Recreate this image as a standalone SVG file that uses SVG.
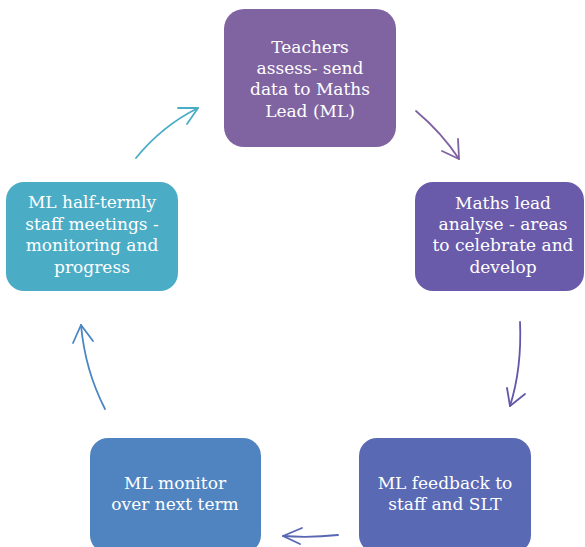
<svg xmlns="http://www.w3.org/2000/svg" width="585" height="547" viewBox="0 0 585 547">
<style>
.box{stroke:none}
.t{font-family:"DejaVu Serif","Liberation Serif",serif;font-size:17px;fill:#ffffff;text-anchor:middle}
.c{fill:none;stroke-width:1.8;stroke-linecap:round;stroke-linejoin:round}
</style>
<rect width="585" height="547" fill="#ffffff"/>
<g id="node-teachers">
<rect class="box" x="224" y="9" width="172" height="138" rx="20" fill="#8064A2"/>
<text class="t" x="310" y="53">Teachers</text>
<text class="t" x="310" y="74">assess- send</text>
<text class="t" x="310" y="95">data to Maths</text>
<text class="t" x="310" y="117">Lead (ML)</text>
</g>
<g id="node-analyse">
<rect class="box" x="415" y="182" width="169" height="109" rx="18" fill="#6A5BAA"/>
<text class="t" x="503" y="209">Maths lead</text>
<text class="t" x="503" y="230">analyse - areas</text>
<text class="t" x="503" y="251">to celebrate and</text>
<text class="t" x="503" y="273">develop</text>
</g>
<g id="node-feedback">
<rect class="box" x="359" y="438" width="172" height="115" rx="18" fill="#5A69B4"/>
<text class="t" x="445" y="489">ML feedback to</text>
<text class="t" x="445" y="510">staff and SLT</text>
</g>
<g id="node-monitor">
<rect class="box" x="90" y="438" width="171" height="115" rx="18" fill="#4F84C0"/>
<text class="t" x="175" y="489">ML monitor</text>
<text class="t" x="175" y="510">over next term</text>
</g>
<g id="node-meetings">
<rect class="box" x="6" y="182" width="172" height="109" rx="18" fill="#4BACC6"/>
<text class="t" x="92" y="208">ML half-termly</text>
<text class="t" x="92" y="230">staff meetings -</text>
<text class="t" x="92" y="251">monitoring and</text>
<text class="t" x="92" y="273">progress</text>
</g>
<g id="connectors">
<path class="c" stroke="#4BACC6" d="M136 158 Q162 126 198 108"/>
<path class="c" stroke="#4BACC6" d="M178 108 L198 108 L187 124"/>
<path class="c" stroke="#7F62A1" d="M416 111 Q442 133 459 159"/>
<path class="c" stroke="#7F62A1" d="M458 139 L459 159 L442 151"/>
<path class="c" stroke="#6258AA" d="M520 322 Q522 368 510 406"/>
<path class="c" stroke="#6258AA" d="M507 388 L510 406 L525 394"/>
<path class="c" stroke="#5866B3" d="M338 535 Q310 538 283 536"/>
<path class="c" stroke="#5866B3" d="M302 528 L283 536 L300 544"/>
<path class="c" stroke="#4A86C4" d="M105 409 Q85 370 81 325"/>
<path class="c" stroke="#4A86C4" d="M73 343 L81 325 L93 341"/>
</g>
</svg>
